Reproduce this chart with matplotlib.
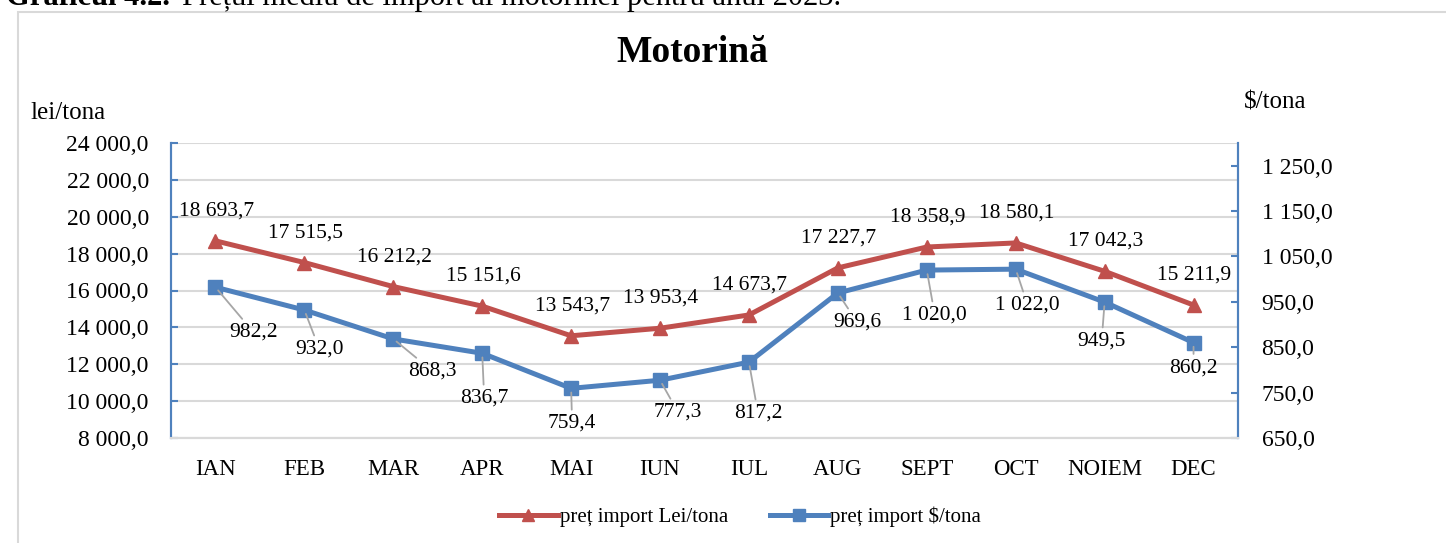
import matplotlib.pyplot as plt
from matplotlib.patches import Rectangle

plt.rcParams['font.family'] = ['Liberation Serif', 'DejaVu Serif']

months = ['IAN', 'FEB', 'MAR', 'APR', 'MAI', 'IUN', 'IUL', 'AUG', 'SEPT', 'OCT', 'NOIEM', 'DEC']
lei = [18693.7, 17515.5, 16212.2, 15151.6, 13543.7, 13953.4, 14673.7, 17227.7, 18358.9, 18580.1, 17042.3, 15211.9]
usd = [982.2, 932.0, 868.3, 836.7, 759.4, 777.3, 817.2, 969.6, 1020.0, 1022.0, 949.5, 860.2]

# label offsets in pixels (dx, dy down)
usd_off = [(38, 45), (15, 39), (39, 32), (2, 45), (1, 35), (18, 32),
           (9, 51), (19, 29), (8, 45), (12, 36), (-3, 39), (0, 25)]

RED = '#C0504D'
BLUE = '#4F81BD'
GRID = '#D9D9D9'


def fmt(v):
    s = f'{v:,.1f}'
    return s.replace(',', ' ').replace('.', ',')


fig = plt.figure(figsize=(14.46, 5.43), dpi=100)
W, H = 1446, 543

# outer chart border
fig.patches.append(Rectangle((18 / W, -0.1), 1.2, 1.1 - 12 / H, transform=fig.transFigure,
                             fill=False, edgecolor=GRID, lw=1.5))

# caption cut off at the top of the page
fig.text(6 / W, 1 - 5 / H, 'Graficul 4.2.', fontsize=22, fontweight='bold', ha='left', va='baseline')
fig.text(182 / W, 1 - 5 / H, 'Prețul mediu de import al motorinei pentru anul 2023.', fontsize=22,
         ha='left', va='baseline')

ax = fig.add_axes([171 / W, 1 - 438 / H, (1238 - 171) / W, (438 - 143) / H])
ax2 = ax.twinx()

x = list(range(len(months)))
ax.plot(x, lei, color=RED, lw=3.6, marker='^', ms=10, zorder=3)
ax2.plot(x, usd, color=BLUE, lw=3.6, marker='s', ms=10, zorder=3)

ax.set_xlim(-0.5, 11.5)
ax.set_ylim(8000, 24000)
ax.set_yticks(range(8000, 24001, 2000))
ax.set_yticklabels([fmt(v) for v in range(8000, 24001, 2000)])
ax2.set_ylim(650, 1300)
ax2.set_yticks(range(650, 1251, 100))
ax2.set_yticklabels([fmt(v) for v in range(650, 1251, 100)])

ax.set_xticks(x)
ax.set_xticklabels(months)
ax.grid(axis='y', color=GRID, lw=1.5)
ax.set_axisbelow(True)

for a in (ax, ax2):
    a.spines['top'].set_visible(False)
    a.spines['bottom'].set_color(GRID)
    a.spines['bottom'].set_linewidth(1.5)
    a.spines['left'].set_color(BLUE)
    a.spines['right'].set_color(BLUE)
    a.spines['left'].set_linewidth(1.5)
    a.spines['right'].set_linewidth(1.5)

ax.tick_params(axis='y', direction='in', length=5, width=1.5, color=BLUE, labelsize=17, pad=16)
ax.tick_params(axis='x', length=0, labelsize=16.5, pad=15)
ax2.tick_params(axis='y', direction='in', length=5, width=1.5, color=BLUE, labelsize=17, pad=17)

for i, v in enumerate(lei):
    ax.annotate(fmt(v), (i, v), xytext=(1, 30), textcoords='offset pixels',
                ha='center', va='center', fontsize=15.5)

for i, v in enumerate(usd):
    dx, dy = usd_off[i]
    ax2.annotate(fmt(v), (i, v), xytext=(dx, -dy), textcoords='offset pixels',
                 ha='center', va='center', fontsize=15.5,
                 arrowprops=dict(arrowstyle='-', color='#A6A6A6', lw=1.3, shrinkA=1, shrinkB=3))

fig.text(692 / W, 1 - 52 / H, 'Motorină', fontsize=27, fontweight='bold', ha='center', va='center')
fig.text(30 / W, 1 - 113 / H, 'lei/tona', fontsize=18, ha='left', va='center')
fig.text(1244 / W, 1 - 103 / H, '$/tona', fontsize=18, ha='left', va='center')

h1, = ax.plot([], [], color=RED, lw=3.6, marker='^', ms=9)
h2, = ax.plot([], [], color=BLUE, lw=3.6, marker='s', ms=9)
fig.legend([h1, h2], ['preț import Lei/tona', 'preț import $/tona'], loc='center',
           bbox_to_anchor=(740 / W, 1 - 517 / H), ncol=2, frameon=False, fontsize=15,
           handlelength=2.8, handletextpad=0.1, columnspacing=2.0)

fig.savefig('out.png', dpi=100)
